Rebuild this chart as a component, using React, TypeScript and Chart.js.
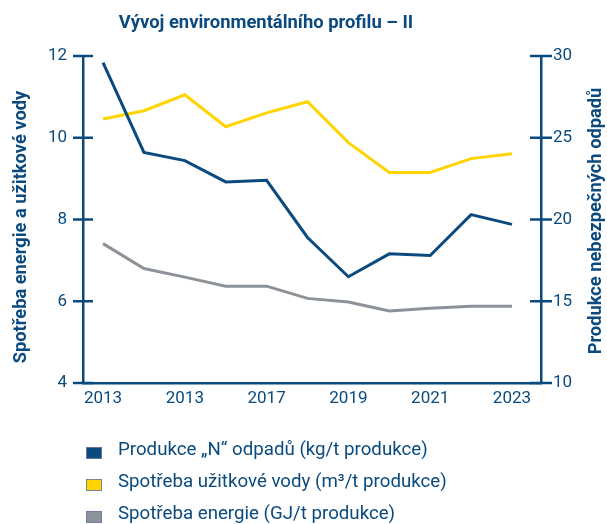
import { useEffect, useRef } from 'react';
import { Chart, registerables } from 'chart.js';

Chart.register(...registerables);

const years = [2013, 2014, 2015, 2016, 2017, 2018, 2019, 2020, 2021, 2022, 2023];
const xTickYears = [2013, 2015, 2017, 2019, 2021, 2023];
const xTickLabels = ['2013', '2013', '2017', '2019', '2021', '2023'];
const hazardousWaste = [29.6, 24.1, 23.6, 22.3, 22.4, 18.9, 16.5, 17.9, 17.8, 20.3, 19.7];
const waterUse = [10.46, 10.66, 11.05, 10.27, 10.61, 10.88, 9.88, 9.15, 9.15, 9.49, 9.61];
const energyUse = [7.41, 6.8, 6.59, 6.37, 6.37, 6.07, 5.98, 5.76, 5.83, 5.88, 5.88];
const leftTicks = [4, 6, 8, 10, 12];
const rightTicks = [10, 15, 20, 25, 30];
const seriesNames = [
  'Produkce „N“ odpadů (kg/t produkce)',
  'Spotřeba užitkové vody (m³/t produkce)',
  'Spotřeba energie (GJ/t produkce)',
];
const titleText = 'Vývoj environmentálního profilu – II';
const leftAxisTitle = 'Spotřeba energie a užitkové vody';
const rightAxisTitle = 'Produkce nebezpečných odpadů';

const NAVY = '#0b4a7e';
const YELLOW = '#ffd400';
const GREY = '#8c9297';
const seriesColors = [NAVY, YELLOW, GREY];

const decorPlugin = {
  id: 'decor',
  afterDraw(chart: any) {
    const ctx = chart.ctx as CanvasRenderingContext2D;
    const { left, right } = chart.chartArea;
    ctx.save();
    ctx.strokeStyle = NAVY;
    ctx.lineWidth = 2.5;
    const yl = chart.scales.yL;
    yl.ticks.forEach((t: any) => {
      const y = yl.getPixelForValue(t.value);
      ctx.beginPath();
      ctx.moveTo(left - 10, y);
      ctx.lineTo(left + 10, y);
      ctx.stroke();
    });
    const yr = chart.scales.yR;
    yr.ticks.forEach((t: any) => {
      const y = yr.getPixelForValue(t.value);
      ctx.beginPath();
      ctx.moveTo(right - 11, y);
      ctx.lineTo(right + 11, y);
      ctx.stroke();
    });

    ctx.fillStyle = NAVY;
    // title
    ctx.font = '700 18.4px Roboto';
    ctx.textAlign = 'center';
    ctx.textBaseline = 'alphabetic';
    ctx.fillText(titleText, 266, 28);

    // axis titles
    ctx.font = '700 18.3px Roboto';
    ctx.save();
    ctx.translate(26, 227);
    ctx.rotate(-Math.PI / 2);
    ctx.fillText(leftAxisTitle, 0, 0);
    ctx.restore();
    ctx.save();
    ctx.translate(601, 221);
    ctx.rotate(-Math.PI / 2);
    ctx.fillText(rightAxisTitle, 0, 0);
    ctx.restore();

    // legend
    ctx.font = '400 18.7px Roboto';
    ctx.textAlign = 'left';
    const baselines = [455, 487, 519];
    seriesNames.forEach((name, i) => {
      const b = baselines[i];
      ctx.fillStyle = seriesColors[i];
      ctx.fillRect(86, b - 8, 16, 12);
      ctx.strokeStyle = 'rgba(110,125,160,0.9)';
      ctx.lineWidth = 1;
      ctx.strokeRect(86.5, b - 7.5, 15, 11);
      ctx.fillStyle = NAVY;
      ctx.fillText(name, 118, b);
    });
    ctx.restore();
  },
};

export default function App() {
  const ref = useRef<HTMLCanvasElement>(null);
  useEffect(() => {
    if (!ref.current) return;
    Chart.defaults.font.family = 'Roboto';
    const chart = new Chart(ref.current, {
      type: 'line',
      data: {
        datasets: [
          {
            label: seriesNames[0],
            data: years.map((x, i) => ({ x, y: hazardousWaste[i] })),
            borderColor: NAVY,
            backgroundColor: NAVY,
            borderWidth: 3,
            pointRadius: 0,
            yAxisID: 'yR',
          },
          {
            label: seriesNames[1],
            data: years.map((x, i) => ({ x, y: waterUse[i] })),
            borderColor: YELLOW,
            backgroundColor: YELLOW,
            borderWidth: 3,
            pointRadius: 0,
            yAxisID: 'yL',
          },
          {
            label: seriesNames[2],
            data: years.map((x, i) => ({ x, y: energyUse[i] })),
            borderColor: GREY,
            backgroundColor: GREY,
            borderWidth: 3,
            pointRadius: 0,
            yAxisID: 'yL',
          },
        ],
      },
      options: {
        animation: false,
        responsive: false,
        layout: { padding: { top: 56, bottom: 111, left: 0, right: 0 } },
        plugins: { legend: { display: false }, title: { display: false }, tooltip: { enabled: false } },
        scales: {
          x: {
            type: 'linear',
            min: 2012.51,
            max: 2023.71,
            grid: { display: false, drawTicks: false },
            border: { display: true, color: NAVY, width: 2.5 },
            afterBuildTicks: (s: any) => {
              s.ticks = xTickYears.map((v) => ({ value: v }));
            },
            afterFit: (s: any) => {
              s.height = 30;
            },
            ticks: {
              color: NAVY,
              font: { size: 17 },
              padding: 6,
              autoSkip: false,
              maxRotation: 0,
              callback: (_v: any, i: number) => xTickLabels[i],
            },
          },
          yL: {
            type: 'linear',
            position: 'left',
            min: 4,
            max: 12,
            grid: { display: false, drawTicks: false },
            border: { display: true, color: NAVY, width: 2.5 },
            afterBuildTicks: (s: any) => {
              s.ticks = leftTicks.map((v) => ({ value: v }));
            },
            afterFit: (s: any) => {
              s.width = 83;
            },
            ticks: { color: NAVY, font: { size: 17 }, padding: 16 },
          },
          yR: {
            type: 'linear',
            position: 'right',
            min: 10,
            max: 30,
            grid: { display: false, drawTicks: false },
            border: { display: true, color: NAVY, width: 2.5 },
            afterBuildTicks: (s: any) => {
              s.ticks = rightTicks.map((v) => ({ value: v }));
            },
            afterFit: (s: any) => {
              s.width = 66;
            },
            ticks: { color: NAVY, font: { size: 17 }, padding: 12 },
          },
        },
      },
      plugins: [decorPlugin],
    });
    return () => chart.destroy();
  }, []);
  return (
    <div style={{ position: 'absolute', left: 0, top: 0, width: 607, height: 524 }}>
      <canvas ref={ref} width={607} height={524} />
    </div>
  );
}
